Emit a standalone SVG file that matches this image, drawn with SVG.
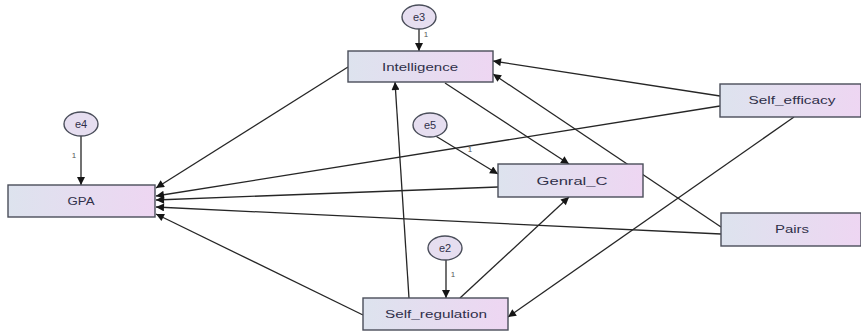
<svg xmlns="http://www.w3.org/2000/svg" width="861" height="335" viewBox="0 0 861 335">
  <defs>
    <linearGradient id="boxFill" x1="0" y1="0" x2="1" y2="0">
      <stop offset="0" stop-color="#dde3ee"/>
      <stop offset="1" stop-color="#eed6f2"/>
    </linearGradient>
    <marker id="arrow" viewBox="0 0 10 10" refX="10" refY="5" markerWidth="11" markerHeight="8" markerUnits="userSpaceOnUse" orient="auto">
      <path d="M0,0 L10,5 L0,10 z" fill="#151515"/>
    </marker>
    <style>
      .box { fill: url(#boxFill); stroke: #4a4e5a; stroke-width: 1.4; }
      .err { fill: #e6def0; stroke: #4a4e5a; stroke-width: 1.4; }
      .lbl { font-family: "Liberation Sans", Arial, sans-serif; font-size: 11px; fill: #30304a; text-anchor: middle; }
      .num { font-family: "Liberation Sans", Arial, sans-serif; font-size: 8px; fill: #555; text-anchor: middle; }
      .edge { stroke: #262626; stroke-width: 1.3; fill: none; marker-end: url(#arrow); }
    </style>
  </defs>

  <rect width="861" height="335" fill="#ffffff"/>

  <!-- paths between variables -->
  <g id="connectors">
    <!-- error terms -->
    <line class="edge" x1="419" y1="29" x2="419" y2="51"/>
    <line class="edge" x1="81" y1="136" x2="81" y2="185"/>
    <line class="edge" x1="434" y1="135" x2="498" y2="174"/>
    <line class="edge" x1="446" y1="260" x2="446" y2="298"/>
    <!-- into GPA -->
    <line class="edge" x1="348" y1="67" x2="156" y2="188"/>
    <line class="edge" x1="720" y1="106" x2="156" y2="196"/>
    <line class="edge" x1="498" y1="187" x2="156" y2="200"/>
    <line class="edge" x1="721" y1="234" x2="156" y2="207"/>
    <line class="edge" x1="363" y1="315" x2="156" y2="214"/>
    <!-- into Intelligence -->
    <line class="edge" x1="720" y1="96" x2="493" y2="61"/>
    <line class="edge" x1="721" y1="227" x2="493" y2="74"/>
    <line class="edge" x1="409" y1="298" x2="395" y2="82"/>
    <!-- into Genral_C -->
    <line class="edge" x1="445" y1="83" x2="569" y2="164"/>
    <line class="edge" x1="460" y1="298" x2="569" y2="197"/>
    <!-- into Self_regulation -->
    <line class="edge" x1="794" y1="117" x2="508" y2="317"/>
  </g>

  <!-- path weights fixed to 1 -->
  <g id="weights">
    <text class="num" x="426" y="37">1</text>
    <text class="num" x="74" y="158">1</text>
    <text class="num" x="470" y="152">1</text>
    <text class="num" x="453" y="277">1</text>
  </g>

  <g id="e3">
    <ellipse class="err" cx="419" cy="17" rx="17" ry="12"/>
    <text class="lbl" x="419" y="21">e3</text>
  </g>
  <g id="e4">
    <ellipse class="err" cx="81" cy="124" rx="17" ry="12"/>
    <text class="lbl" x="81" y="128">e4</text>
  </g>
  <g id="e5">
    <ellipse class="err" cx="430" cy="125" rx="17" ry="12"/>
    <text class="lbl" x="430" y="129">e5</text>
  </g>
  <g id="e2">
    <ellipse class="err" cx="445" cy="248" rx="17" ry="12"/>
    <text class="lbl" x="445" y="252">e2</text>
  </g>

  <g id="Intelligence">
    <rect class="box" x="348" y="51" width="145" height="31"/>
    <text class="lbl" x="420" y="71" textLength="76" lengthAdjust="spacingAndGlyphs">Intelligence</text>
  </g>
  <g id="GPA">
    <rect class="box" x="8" y="185" width="147" height="32"/>
    <text class="lbl" x="81" y="205" textLength="27" lengthAdjust="spacingAndGlyphs">GPA</text>
  </g>
  <g id="Genral_C">
    <rect class="box" x="498" y="164" width="145" height="33"/>
    <text class="lbl" x="572" y="185" textLength="71" lengthAdjust="spacingAndGlyphs">Genral_C</text>
  </g>
  <g id="Self_efficacy">
    <rect class="box" x="720" y="84" width="141" height="33"/>
    <text class="lbl" x="792" y="104" textLength="87" lengthAdjust="spacingAndGlyphs">Self_efficacy</text>
  </g>
  <g id="Pairs">
    <rect class="box" x="721" y="213" width="140" height="33"/>
    <text class="lbl" x="792" y="233" textLength="34" lengthAdjust="spacingAndGlyphs">Pairs</text>
  </g>
  <g id="Self_regulation">
    <rect class="box" x="363" y="298" width="145" height="32"/>
    <text class="lbl" x="436" y="318" textLength="102" lengthAdjust="spacingAndGlyphs">Self_regulation</text>
  </g>
</svg>
